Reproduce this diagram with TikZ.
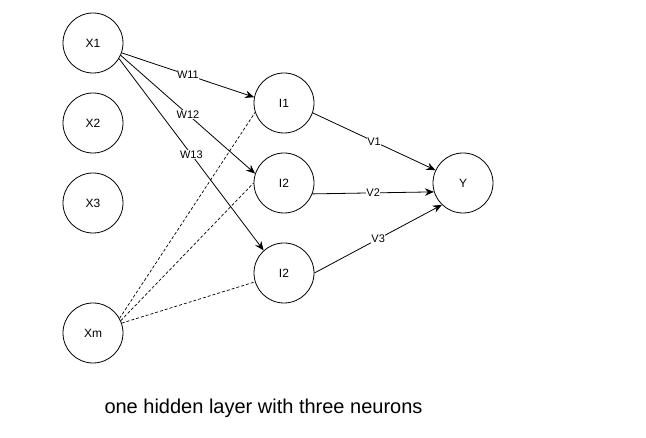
\documentclass[tikz,border=0pt]{standalone}
\usepackage{fontspec}
\setmainfont{Liberation Sans}
\usetikzlibrary{arrows.meta}
\begin{document}
\begin{tikzpicture}[x=1pt,y=-1pt,
  neuron/.style={draw,circle,minimum size=60pt,inner sep=0pt,line width=0.8pt,font=\fontsize{12}{14}\selectfont},
  conn/.style={line width=0.8pt,-{Stealth[length=9pt,width=7.5pt]}},
  dconn/.style={line width=0.7pt,dash pattern=on 3pt off 2pt},
  wlab/.style={fill=white,inner sep=0.5pt,font=\fontsize{11}{13}\selectfont}]
\useasboundingbox (0,0) rectangle (646,438);
\node[neuron] (x1) at (93,43) {X1};
\node[neuron] (x2) at (93,123) {X2};
\node[neuron] (x3) at (93,203) {X3};
\node[neuron] (xm) at (93,333) {Xm};
\node[neuron] (i1) at (284,103) {I1};
\node[neuron] (i2) at (284,183) {I2};
\node[neuron] (i3) at (284,273) {I2};
\node[neuron] (y) at (463,183) {Y};
\draw[conn] (x1.-19) -- node[wlab] {W11} (i1.169);
\draw[conn] (x1.-24) -- node[wlab] {W12} (i2.162);
\draw[conn] (x1.-31) -- node[wlab] {W13} (i3.132);
\draw[dconn] (xm.29) -- (i1.198);
\draw[dconn] (xm.24) -- (i2.180);
\draw[dconn] (xm.19) -- (i3.197);
\draw[conn] (i1.-19) -- node[wlab] {V1} (y.155);
\draw[conn] (i2.-21) -- node[wlab] {V2} (y.197);
\draw[conn] (i3.0) -- node[wlab] {V3} (y.226);
\node[font=\fontsize{20}{24}\selectfont] (cap) at (263.5,408) {one hidden layer with three neurons};
\end{tikzpicture}
\end{document}
